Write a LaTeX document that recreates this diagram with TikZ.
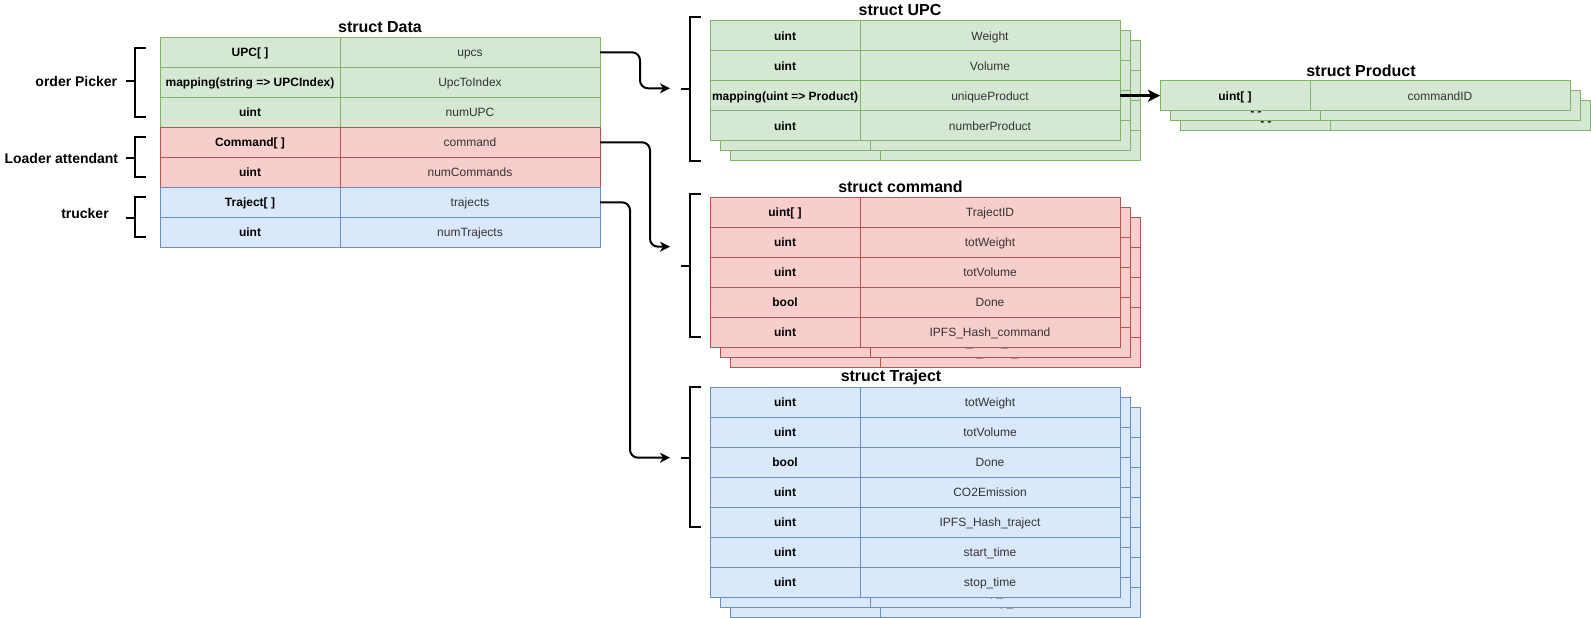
\documentclass[tikz,border=0pt]{standalone}
\usepackage{fontspec}
\setmainfont{Liberation Sans}
\usetikzlibrary{arrows.meta, positioning}
\definecolor{cgreen}{HTML}{82B366}
\definecolor{cgreenbg}{HTML}{D5E8D4}
\definecolor{cred}{HTML}{B85450}
\definecolor{credbg}{HTML}{F8CECC}
\definecolor{cblue}{HTML}{6C8EBF}
\definecolor{cbluebg}{HTML}{DAE8FC}
\newcommand{\cellfont}{\fontsize{12}{14}\selectfont}
\tikzset{
  every picture/.style={line width=1pt},
  cell/.style={draw=#1, fill=#1bg, outer sep=0pt, inner sep=0pt, minimum height=30pt, text height=10.5pt, text depth=1.5pt, anchor=north west, font=\cellfont},
  title/.style={font=\fontsize{16}{19}\selectfont\bfseries},
  role/.style={font=\fontsize{14}{17}\selectfont\bfseries},
  brace/.style={line width=2pt},
  link/.style={-{Stealth[length=10pt, width=10pt, inset=3pt]}, line width=2pt, rounded corners=8pt},
}
% one table: prefix, x, y, colour, type width, rows
\newcommand{\fields}[6]{%
  \foreach \ty/\nm [count=\i] in {#6} {
    \node[cell=#4, minimum width=#5pt, font=\cellfont\bfseries] (#1-t\i) at ({#2}, {#3+30*(\i-1)}) {\ty};
    \node[cell=#4, minimum width=260pt, text=black!80] (#1-n\i) at (#1-t\i.north east) {\nm};
  }
}

\begin{document}
\begin{tikzpicture}[x=1pt, y=-1pt]
  \useasboundingbox (0,0) rectangle (1591,618);

  % struct Data
  \node[title] (datatitle) at (380,27.3) {struct Data};
  \fields{pick}{160}{37.3}{cgreen}{180}{UPC[ ]/upcs, mapping(string => UPCIndex)/UpcToIndex, uint/numUPC}
  \fields{load}{160}{127.3}{cred}{180}{Command[ ]/command, uint/numCommands}
  \fields{truck}{160}{187.3}{cblue}{180}{Traject[ ]/trajects, uint/numTrajects}

  \node[role, anchor=east] (picker) at (121,81) {order Picker};
  \node[role, anchor=east] (loader) at (122,158) {Loader attendant};
  \node[role] (trucker) at (85,213) {trucker};
  \draw[brace] (145.5,48) -- (135,48) -- (135,117) -- (145.5,117) (126,81) -- (135,81);
  \draw[brace] (145.5,137) -- (135,137) -- (135,177) -- (145.5,177) (126,158) -- (135,158);
  \draw[brace] (145.5,197) -- (135,197) -- (135,237) -- (145.5,237) (126,218) -- (135,218);

  % struct UPC
  \node[title] (upctitle) at (900,10) {struct UPC};
  \foreach \k in {2,1,0} {
    \fields{upc\k}{710+10*\k}{20.7+10*\k}{cgreen}{150}{uint/Weight, uint/Volume, mapping(uint => Product)/uniqueProduct, uint/numberProduct}
  }
  \draw[brace] (700.7,17.3) -- (690,17.3) -- (690,160.7) -- (700.7,160.7) (681,89) -- (690,89);

  % struct Product
  \node[title] (prodtitle) at (1361,70.7) {struct Product};
  \foreach \k in {2,1,0} {
    \fields{prod\k}{1160+10*\k}{80.7+10*\k}{cgreen}{150}{uint[ ]/commandID}
  }

  % struct command
  \node[title] (cmdtitle) at (900.5,186.7) {struct command};
  \foreach \k in {2,1,0} {
    \fields{cmd\k}{710+10*\k}{197.3+10*\k}{cred}{150}{uint[ ]/TrajectID, uint/totWeight, uint/totVolume, bool/Done, uint/IPFS\_Hash\_command}
  }
  \draw[brace] (700.7,194) -- (690,194) -- (690,337.3) -- (700.7,337.3) (681,266) -- (690,266);

  % struct Traject
  \node[title] (trjtitle) at (891,377.3) {struct Traject};
  \foreach \k in {2,1,0} {
    \fields{trj\k}{710+10*\k}{387.3+10*\k}{cblue}{150}{uint/totWeight, uint/totVolume, bool/Done, uint/CO2Emission, uint/IPFS\_Hash\_traject, uint/start\_time, uint/stop\_time}
  }
  \draw[brace] (700.7,387.3) -- (690,387.3) -- (690,527.3) -- (700.7,527.3) (681,457.7) -- (690,457.7);

  % connectors
  \coordinate (upcin) at (670,88.3);
  \coordinate (cmdin) at (670,246.7);
  \coordinate (trjin) at (670,457.7);
  \draw[link] (pick-n1.east) -| ([xshift=-30pt]upcin) -- (upcin);
  \draw[link] (load-n1.east) -| ([xshift=-20pt]cmdin) -- (cmdin);
  \draw[link] (truck-n1.east) -| ([xshift=-40pt]trjin) -- (trjin);
  \draw[link, line width=3pt, -{Stealth[length=12pt, width=12pt, inset=3pt]}] (upc0-n3.east) -- (prod0-t1.west);
\end{tikzpicture}
\end{document}
